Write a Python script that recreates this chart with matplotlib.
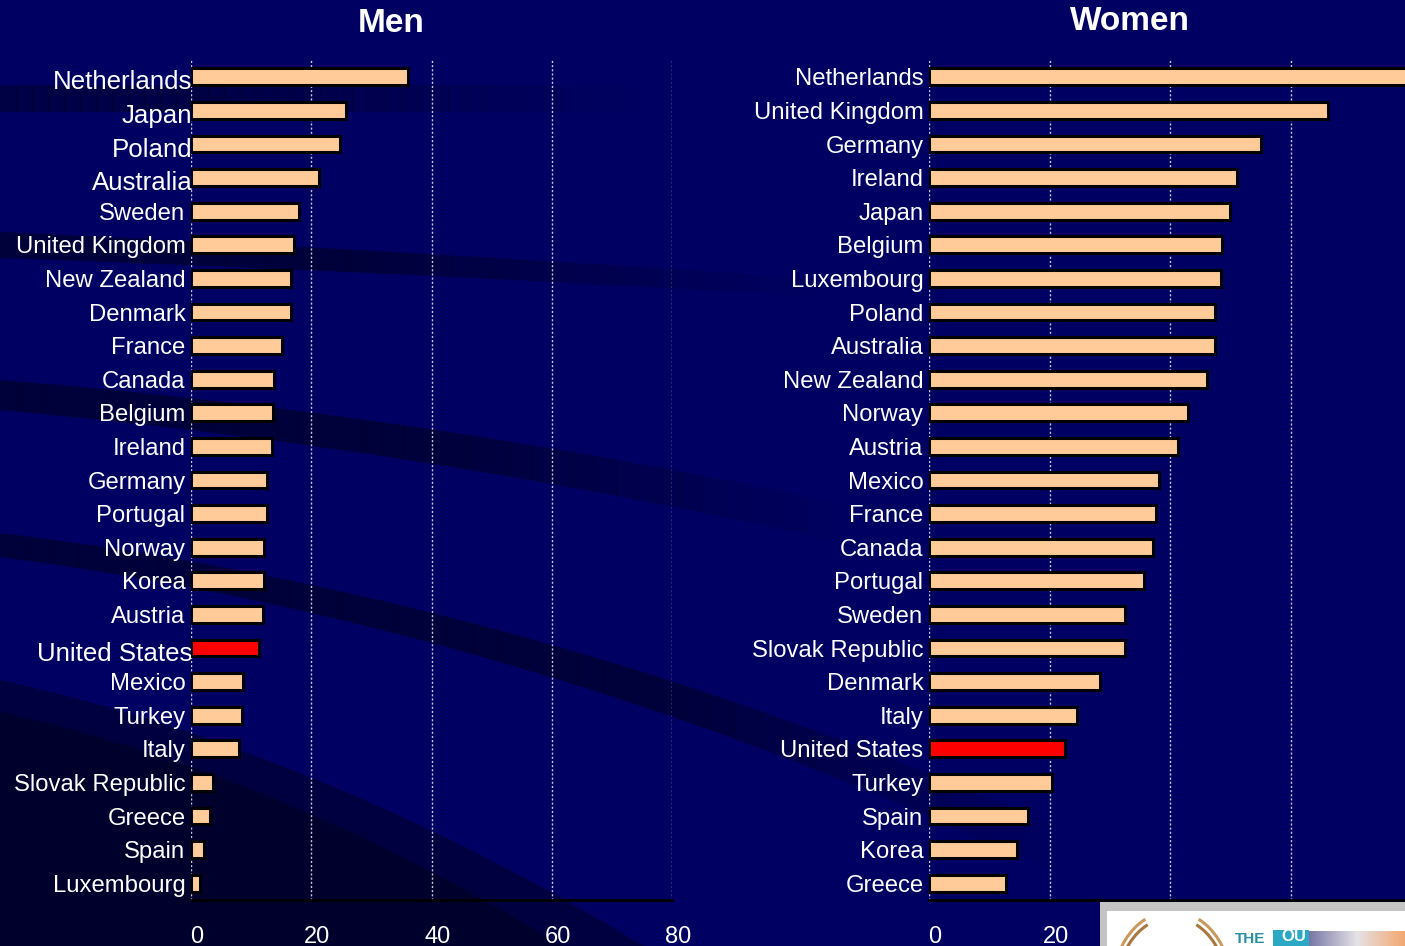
import numpy as np
import matplotlib
matplotlib.use("Agg")
import matplotlib.pyplot as plt
from matplotlib.patches import Polygon, Rectangle, Arc
from matplotlib.colors import LinearSegmentedColormap
from matplotlib.transforms import ScaledTranslation

plt.rcParams['font.family'] = ['Liberation Sans', 'DejaVu Sans']

# --- data ---
men_countries = ["Netherlands", "Japan", "Poland", "Australia", "Sweden", "United Kingdom",
                 "New Zealand", "Denmark", "France", "Canada", "Belgium", "Ireland",
                 "Germany", "Portugal", "Norway", "Korea", "Austria", "United States",
                 "Mexico", "Turkey", "Italy", "Slovak Republic", "Greece", "Spain", "Luxembourg"]
men_values = [36.1, 25.8, 24.7, 21.3, 18.0, 17.1, 16.6, 16.7, 15.2, 13.8, 13.7, 13.4,
              12.7, 12.6, 12.2, 12.1, 11.9, 11.3, 8.7, 8.4, 8.0, 3.7, 3.1, 2.2, 1.5]
# these labels are drawn a bit larger in the original slide
men_big = ["Netherlands", "Japan", "Poland", "Australia", "United States"]

women_countries = ["Netherlands", "United Kingdom", "Germany", "Ireland", "Japan", "Belgium",
                   "Luxembourg", "Poland", "Australia", "New Zealand", "Norway", "Austria",
                   "Mexico", "France", "Canada", "Portugal", "Sweden", "Slovak Republic",
                   "Denmark", "Italy", "United States", "Turkey", "Spain", "Korea", "Greece"]
women_values = [80.0, 66.3, 55.1, 51.1, 49.9, 48.6, 48.4, 47.5, 47.4, 46.2, 43.0, 41.3,
                38.1, 37.6, 37.2, 35.7, 32.5, 32.5, 28.4, 24.5, 22.5, 20.4, 16.4, 14.6, 12.7]

xticks = [0, 20, 40, 60, 80]
men_xlabels = ["0", "20", "40", "60", "80"]
women_xlabels = ["0", "20", "", "", ""]   # the rest sit under the logo
highlight = "United States"

BG = "#000062"
BAR = "#FFCC99"
W, H = 1405, 946

fig = plt.figure(figsize=(W / 100, H / 100), dpi=100, facecolor=BG)

# --- background swooshes (decoration, pixel coords) ---
bg = fig.add_axes([0, 0, 1, 1], zorder=-10)
bg.set_xlim(0, W); bg.set_ylim(H, 0); bg.axis("off")
bg.set_facecolor(BG)

def band(x0, x1, top, bot, color, a0=1.0, fade_from=0.5):
    # piecewise polygon, alpha fades out towards x1
    xs = np.linspace(x0, x1, 41)
    for i in range(len(xs) - 1):
        xa, xb = xs[i], xs[i + 1] + 0.8
        t = (xs[i] - x0) / (x1 - x0)
        a = a0 if t < fade_from else a0 * (1 - (t - fade_from) / (1 - fade_from))
        pts = [(xa, top(xa)), (xb, top(xb)), (xb, bot(xb)), (xa, bot(xa))]
        bg.add_patch(Polygon(pts, closed=True, facecolor=color, edgecolor="none", alpha=a))

band(0, 640, lambda x: 85 + 0 * x, lambda x: 112 + 0 * x, "#000030", 0.6, 0.3)
band(0, 820, lambda x: 232 + 0.045 * x + 1.5e-5 * x**2, lambda x: 258 + 0.035 * x + 1.5e-5 * x**2, "#000030", 0.8, 0.4)
band(0, 850, lambda x: 380 + 0.08 * x + 8e-5 * x**2, lambda x: 410 + 0.09 * x + 8e-5 * x**2, "#000030", 0.8, 0.5)
band(0, 1050, lambda x: 533 + 0.12 * x + 1.5e-4 * x**2, lambda x: 557 + 0.13 * x + 1.6e-4 * x**2, "#000030", 0.8, 0.6)
band(0, 700, lambda x: 680 + 0.22 * x + 3.0e-4 * x**2, lambda x: 946 + 0 * x, "#000040", 1.0, 0.9)
band(0, 640, lambda x: 712 + 0.22 * x + 3.5e-4 * x**2, lambda x: 946 + 0 * x, "#00002c", 1.0, 0.95)


def draw_panel(rect, countries, values, xlabels, big=()):
    ax = fig.add_axes(rect)
    ax.set_facecolor("none")
    n = len(countries)
    ypos = np.arange(n)
    colors = ["#FF0000" if c == highlight else BAR for c in countries]
    ax.barh(ypos, values, height=0.5, color=colors, edgecolor="black", linewidth=2.2, zorder=3)
    ax.set_xlim(0, 80)
    ax.set_ylim(n - 0.5, -0.5)
    ax.set_xticks(xticks)
    ax.set_xticklabels(xlabels)
    ax.set_yticks(ypos)
    ax.set_yticklabels(countries)
    ax.tick_params(axis="both", length=0, colors="white")
    ax.tick_params(axis="x", labelsize=17, pad=19)
    ax.tick_params(axis="y", labelsize=17.2, pad=4)
    big_off = ScaledTranslation(7 / 100, -3 / 100, fig.dpi_scale_trans)
    for lbl in ax.get_yticklabels():
        if lbl.get_text() in big:
            lbl.set_fontsize(18.6)
            lbl.set_transform(lbl.get_transform() + big_off)
    off = ScaledTranslation(6 / 100, 0, fig.dpi_scale_trans)
    for lbl in ax.get_xticklabels():
        lbl.set_transform(lbl.get_transform() + off)
    ax.grid(axis="x", linestyle=(0, (1.5, 1.5)), color="#c8c8d8", linewidth=1, zorder=0)
    ax.set_axisbelow(True)
    for s in ["top", "right", "left"]:
        ax.spines[s].set_visible(False)
    ax.spines["bottom"].set_color("black")
    ax.spines["bottom"].set_linewidth(2)
    return ax

men_ax = draw_panel([191 / W, 46 / H, 481 / W, 840 / H], men_countries, men_values,
                    men_xlabels, men_big)
women_ax = draw_panel([929 / W, 46 / H, 482 / W, 840 / H], women_countries, women_values,
                      women_xlabels)

fig.text(391 / W, 1 - 24 / H, "Men", ha="center", va="center", fontsize=24,
         fontweight="bold", color="white")
fig.text(1130 / W, 1 - 22 / H, "Women", ha="center", va="center", fontsize=24,
         fontweight="bold", color="white")

# --- logo fragment bottom right ---
ov = fig.add_axes([0, 0, 1, 1], zorder=10)
ov.set_xlim(0, W); ov.set_ylim(H, 0); ov.axis("off")
ov.set_facecolor("none")
ov.add_patch(Rectangle((1100, 902), 320, 60, facecolor="#c4c4c4", edgecolor="none"))
ov.add_patch(Rectangle((1107, 911), 320, 60, facecolor="white", edgecolor="none"))
for r, c in [(118, "#c89a60"), (108, "#a87840")]:
    ov.add_patch(Arc((1172, 985), r, r * 1.25, theta1=195, theta2=248, color=c, lw=2.2))
    ov.add_patch(Arc((1172, 985), r, r * 1.25, theta1=292, theta2=345, color=c, lw=2.2))
ov.text(1235, 939, "THE", color="#2a8fa0", fontsize=11, fontweight="bold", va="center", ha="left")
ov.add_patch(Rectangle((1273, 930), 36, 20, facecolor="#2aa8c4", edgecolor="none"))
ov.text(1281, 936, "OU", color="white", fontsize=12, fontweight="bold", va="center", ha="left")
grad = LinearSegmentedColormap.from_list("g", ["#7878a8", "#e6e2e6", "#f2a870"])
ov.imshow(np.linspace(0, 1, 100)[None, :], cmap=grad, aspect="auto",
          extent=(1309, 1405, 946, 931), zorder=2)
ov.set_xlim(0, W); ov.set_ylim(H, 0)

fig.savefig("out.png", dpi=100, facecolor=BG)
